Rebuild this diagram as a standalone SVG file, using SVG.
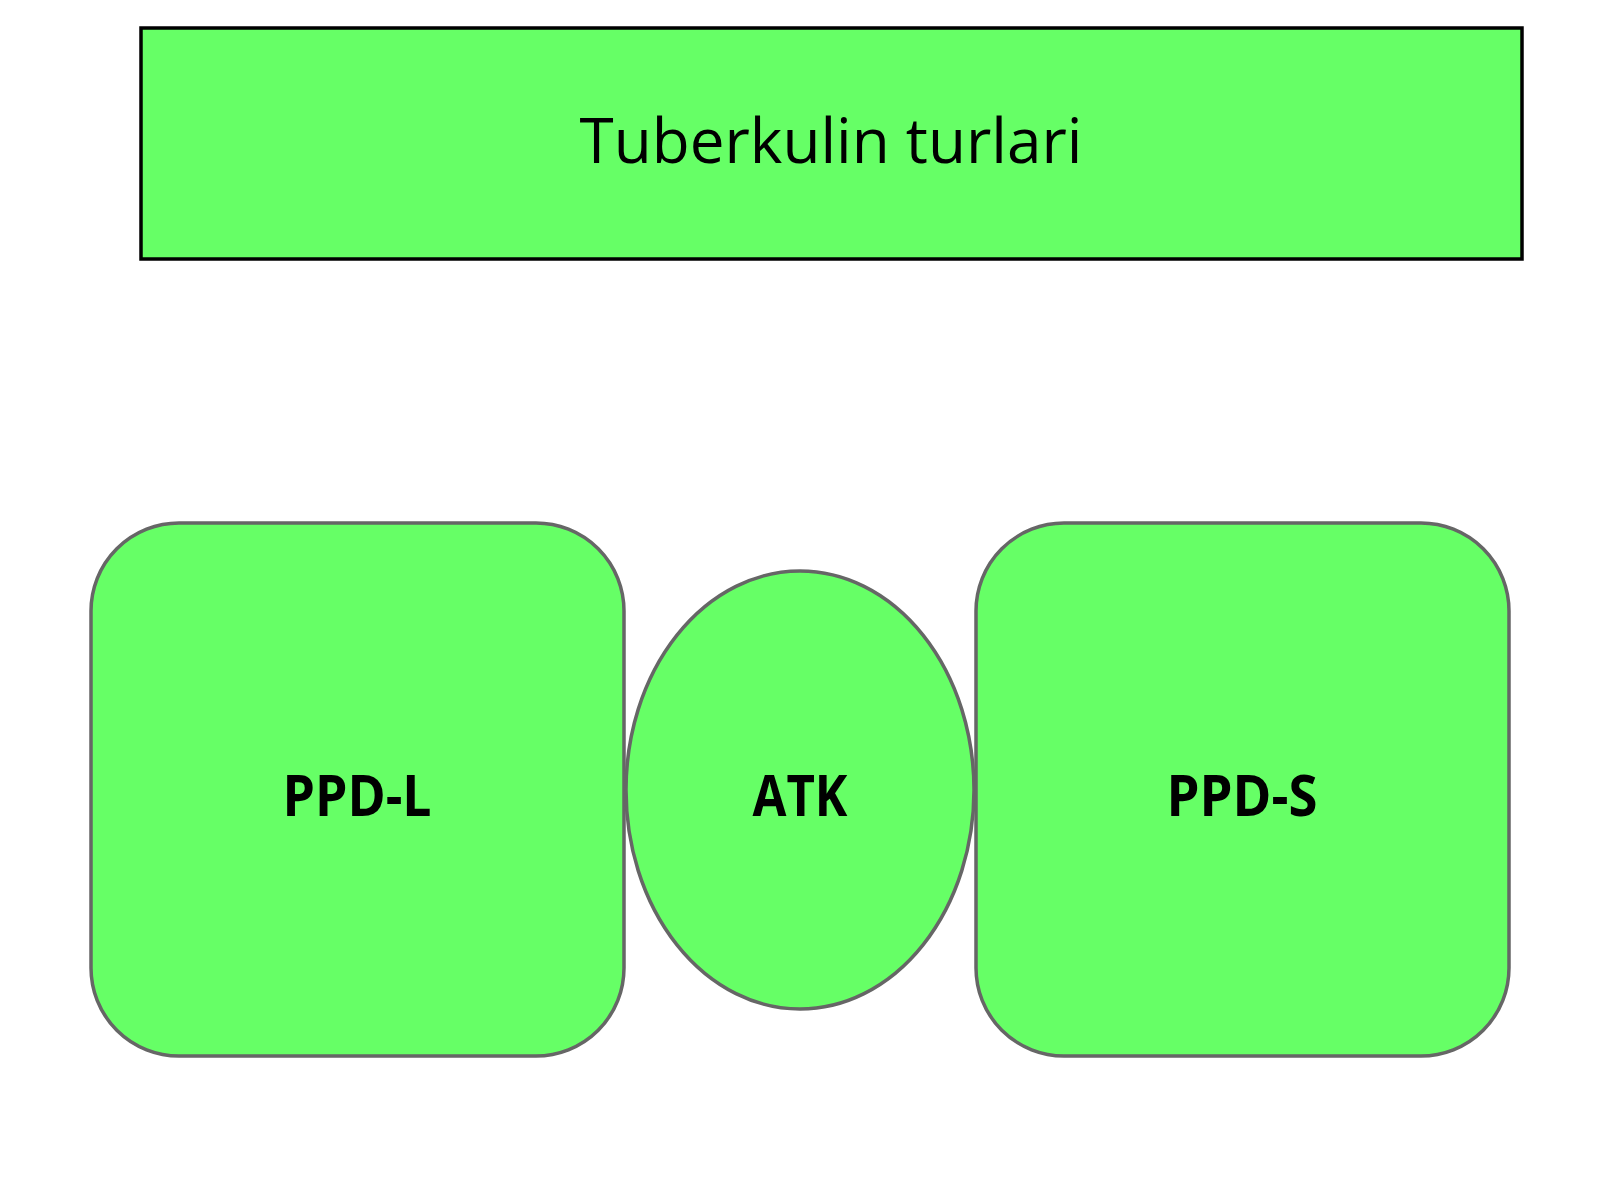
<svg xmlns="http://www.w3.org/2000/svg" width="1600" height="1200" viewBox="0 0 1600 1200">
<style>
.shape{fill:#66ff66;stroke:#666666;stroke-width:3.5}
.lbl{font-family:"Open Sans","Noto Sans",sans-serif;font-weight:bold;font-size:58px;fill:#000;text-anchor:middle}
</style>
<rect x="0" y="0" width="1600" height="1200" fill="#ffffff"/>
<g id="title">
<rect x="141" y="28" width="1381" height="231" fill="#66ff66" stroke="#000" stroke-width="3.5"/>
<text x="831" y="163" font-family="Open Sans, Noto Sans, sans-serif" font-size="62" text-anchor="middle" fill="#000">Tuberkulin turlari</text>
</g>
<g id="connectors"></g>
<g id="ppd-l">
<rect class="shape" x="91" y="523" width="533" height="533" rx="88" ry="88"/>
<text class="lbl" x="357" y="816" textLength="149" lengthAdjust="spacingAndGlyphs">PPD-L</text>
</g>
<g id="atk">
<ellipse class="shape" cx="800" cy="790" rx="174" ry="219"/>
<text class="lbl" x="800" y="816" textLength="95" lengthAdjust="spacingAndGlyphs">ATK</text>
</g>
<g id="ppd-s">
<rect class="shape" x="976" y="523" width="533" height="533" rx="88" ry="88"/>
<text class="lbl" x="1242" y="816" textLength="151" lengthAdjust="spacingAndGlyphs">PPD-S</text>
</g>
</svg>
